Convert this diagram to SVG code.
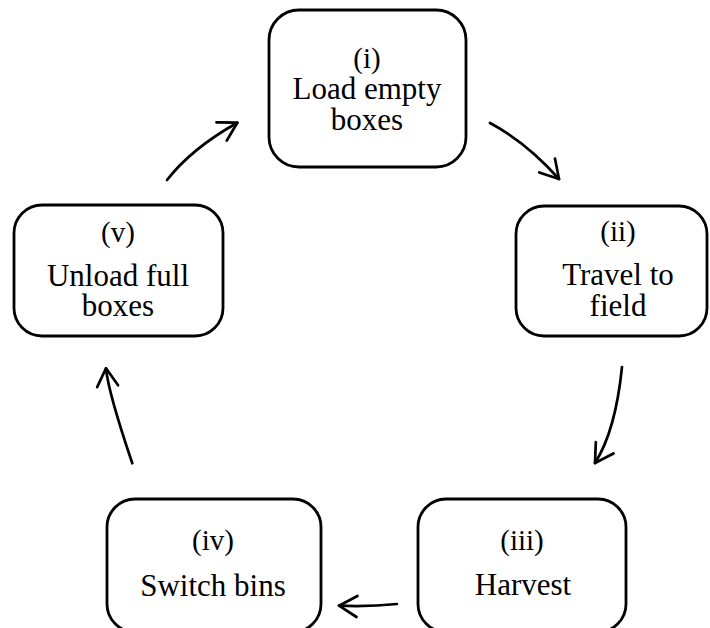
<svg xmlns="http://www.w3.org/2000/svg" width="710" height="628" viewBox="0 0 710 628">
<defs>
<style>
.box{fill:#fff;stroke:#000;stroke-width:2.8}
.t{font-family:"Liberation Serif","Times New Roman",serif;font-size:31px;fill:#000;text-anchor:middle}
.n{font-family:"Liberation Serif","Times New Roman",serif;font-size:29px;fill:#000;text-anchor:middle}
.c{fill:none;stroke:#000;stroke-width:2.7;stroke-linecap:round}
</style>
<marker id="ah" markerUnits="userSpaceOnUse" markerWidth="30" markerHeight="30" viewBox="-24 -15 30 30" refX="0" refY="0" orient="auto">
<path d="M-18,-10.5 L0,0 L-18,10.5" fill="none" stroke="#000" stroke-width="2.7" stroke-linecap="round" stroke-linejoin="round"/>
</marker>
</defs>
<rect width="710" height="628" fill="#fff"/>
<g id="node-i">
<rect class="box" x="269" y="10" width="197" height="157" rx="30"/>
<text class="n" x="367" y="68">(i)</text>
<text class="t" x="367" y="99">Load empty</text>
<text class="t" x="367" y="130">boxes</text>
</g>
<g id="node-ii">
<rect class="box" x="516" y="206" width="191" height="130" rx="28"/>
<text class="n" x="618" y="241">(ii)</text>
<text class="t" x="618" y="285">Travel to</text>
<text class="t" x="618" y="316">field</text>
</g>
<g id="node-iii">
<rect class="box" x="418" y="499" width="208" height="133" rx="28"/>
<text class="n" x="522" y="550">(iii)</text>
<text class="t" x="523" y="595">Harvest</text>
</g>
<g id="node-iv">
<rect class="box" x="107" y="499" width="214" height="133" rx="28"/>
<text class="n" x="213" y="550">(iv)</text>
<text class="t" x="213" y="596">Switch bins</text>
</g>
<g id="node-v">
<rect class="box" x="14" y="205" width="209" height="131" rx="28"/>
<text class="n" x="118" y="242">(v)</text>
<text class="t" x="118" y="286">Unload full</text>
<text class="t" x="118" y="316">boxes</text>
</g>
<g id="connectors">
<path class="c" d="M490,123 Q527,142.7 559,179" marker-end="url(#ah)"/>
<path class="c" d="M622,367 Q615.6,430.7 595,463" marker-end="url(#ah)"/>
<path class="c" d="M397,604 Q368,607 339,605.7" marker-end="url(#ah)"/>
<path class="c" d="M132.3,463.3 Q108.1,391.7 106,368.3" marker-end="url(#ah)"/>
<path class="c" d="M167,180 Q191.4,148.5 237.3,122.7" marker-end="url(#ah)"/>
</g>
</svg>
